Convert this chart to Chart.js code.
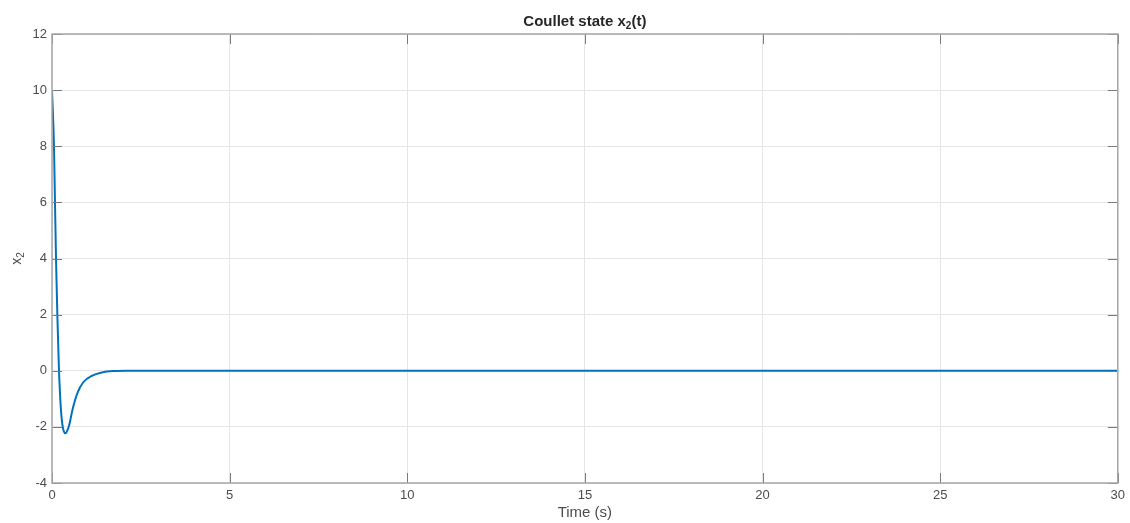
<!DOCTYPE html>
<html>
<head>
<meta charset="utf-8">
<script src="https://cdn.jsdelivr.net/npm/chart.js@4/dist/chart.umd.min.js"></script>
<style>
html,body{margin:0;padding:0;background:#fff;}
#wrap{width:1130px;height:523px;}
</style>
</head>
<body>
<div id="wrap"><canvas id="c" width="1130" height="523"></canvas></div>
<script>
const times  = [0, 0.056, 0.084, 0.113, 0.15, 0.197, 0.225, 0.255, 0.29, 0.33, 0.385, 0.42, 0.48, 0.58, 0.72, 0.88, 1.12, 1.4, 1.72, 2.1, 5, 10, 15, 20, 25, 30];
const x2vals = [10, 8, 6, 4, 2, 0, -0.8, -1.45, -1.9, -2.15, -2.23, -2.16, -1.96, -1.37, -0.78, -0.41, -0.18, -0.06, -0.01, 0, 0, 0, 0, 0, 0, 0];
const xTicks = [0, 5, 10, 15, 20, 25, 30];
const yTicks = [-4, -2, 0, 2, 4, 6, 8, 10, 12];

const FONT = '"Liberation Sans", Arial, Helvetica, sans-serif';
const TICK_COLOR = '#4d4d4d';

const matlabPlugin = {
  id: 'matlab',
  afterDraw(chart) {
    const ctx = chart.ctx;
    const a = chart.chartArea;
    const xs = chart.scales.x, ys = chart.scales.y;
    ctx.save();
    ctx.strokeStyle = '#7a7a7a';
    ctx.lineWidth = 1;
    const L = 10;
    ctx.beginPath();
    xTicks.forEach(v => {
      const px = Math.round(xs.getPixelForValue(v)) + 0.5;
      ctx.moveTo(px, a.bottom); ctx.lineTo(px, a.bottom - L);
      ctx.moveTo(px, a.top); ctx.lineTo(px, a.top + L);
    });
    yTicks.forEach(v => {
      const py = Math.round(ys.getPixelForValue(v)) + 0.5;
      ctx.moveTo(a.left, py); ctx.lineTo(a.left + L, py);
      ctx.moveTo(a.right, py); ctx.lineTo(a.right - L, py);
    });
    ctx.stroke();
    ctx.strokeStyle = '#a6a6a6';
    ctx.lineWidth = 1.5;
    ctx.strokeRect(a.left, a.top, a.right - a.left, a.bottom - a.top);
    ctx.fillStyle = '#262626';
    ctx.textBaseline = 'alphabetic';
    const t1 = 'Coullet state x', sub = '2', t2 = '(t)';
    ctx.font = 'bold 15px ' + FONT;
    const w1 = ctx.measureText(t1).width, w3 = ctx.measureText(t2).width;
    ctx.font = 'bold 10px ' + FONT;
    const w2 = ctx.measureText(sub).width;
    const total = w1 + w2 + w3;
    const cx = (a.left + a.right) / 2;
    let x0 = cx - total / 2;
    const base = 26;
    ctx.font = 'bold 15px ' + FONT;
    ctx.textAlign = 'left';
    ctx.fillText(t1, x0, base);
    ctx.font = 'bold 10px ' + FONT;
    ctx.fillText(sub, x0 + w1, base + 3);
    ctx.font = 'bold 15px ' + FONT;
    ctx.fillText(t2, x0 + w1 + w2, base);
    ctx.fillStyle = TICK_COLOR;
    ctx.translate(21, (a.top + a.bottom) / 2);
    ctx.rotate(-Math.PI / 2);
    ctx.font = '14px ' + FONT;
    const wy1 = ctx.measureText('x').width;
    ctx.font = '10px ' + FONT;
    const wy2 = ctx.measureText('2').width;
    const yx0 = -(wy1 + wy2) / 2;
    ctx.font = '14px ' + FONT;
    ctx.fillText('x', yx0, 0);
    ctx.font = '10px ' + FONT;
    ctx.fillText('2', yx0 + wy1, 3);
    ctx.restore();
  }
};

new Chart(document.getElementById('c'), {
  type: 'line',
  data: {
    datasets: [{
      label: 'x2',
      data: times.map((t, i) => ({ x: t, y: x2vals[i] })),
      borderColor: '#0072BD',
      borderWidth: 2,
      pointRadius: 0,
      fill: false,
      cubicInterpolationMode: 'monotone'
    }]
  },
  options: {
    responsive: false,
    animation: false,
    layout: { padding: { top: 34, right: 12, left: 0, bottom: 0 } },
    plugins: { legend: { display: false }, title: { display: false }, tooltip: { enabled: false } },
    scales: {
      x: {
        type: 'linear', min: 0, max: 30,
        afterBuildTicks: s => { s.ticks = xTicks.map(v => ({ value: v })); },
        afterFit: s => { s.height = 40; },
        ticks: { color: TICK_COLOR, font: { family: FONT, size: 13 }, padding: 5, maxRotation: 0 },
        grid: { color: '#e6e6e6', drawTicks: false, lineWidth: 1 },
        border: { display: false },
        title: { display: true, text: 'Time (s)', color: TICK_COLOR, font: { family: FONT, size: 15 }, padding: { top: 0, bottom: 1 } }
      },
      y: {
        type: 'linear', min: -4, max: 12,
        afterBuildTicks: s => { s.ticks = yTicks.map(v => ({ value: v })); },
        afterFit: s => { s.width = 52; },
        ticks: { color: TICK_COLOR, font: { family: FONT, size: 13 }, padding: 5 },
        grid: { color: '#e6e6e6', drawTicks: false, lineWidth: 1 },
        border: { display: false }
      }
    }
  },
  plugins: [matlabPlugin]
});
</script>
</body>
</html>
